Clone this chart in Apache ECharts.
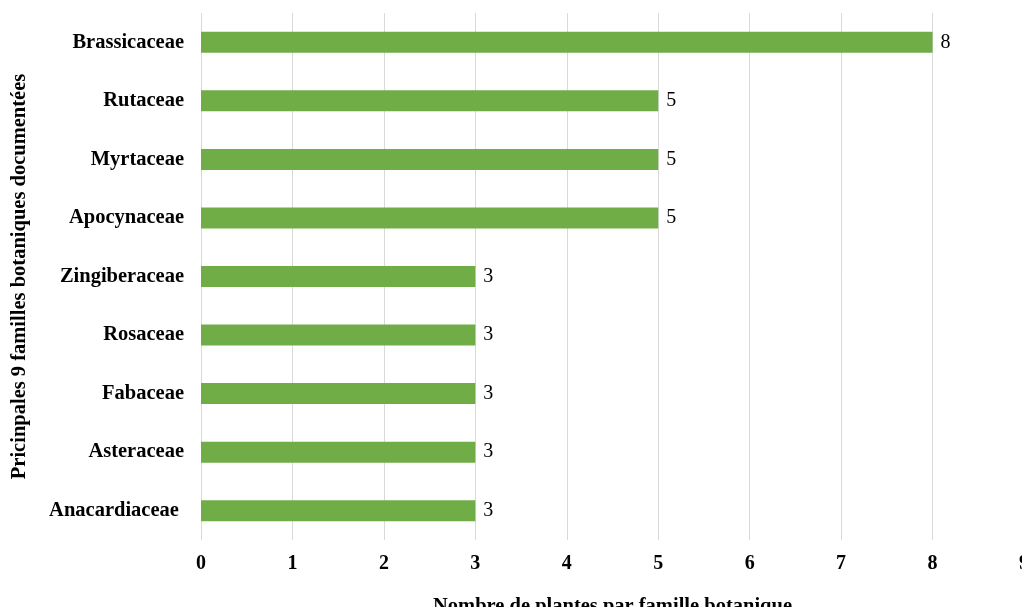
<!DOCTYPE html>
<html><head><meta charset="utf-8">
<script src="https://cdn.jsdelivr.net/npm/echarts@6/dist/echarts.min.js"></script>
<style>html,body{margin:0;padding:0;background:#fff;}#c{width:1022px;height:607px;}</style>
</head><body><div id="c"></div>
<script>
const categories = ["Brassicaceae","Rutaceae","Myrtaceae","Apocynaceae","Zingiberaceae","Rosaceae","Fabaceae","Asteraceae","Anacardiaceae "];
const values = [8,5,5,5,3,3,3,3,3];
const xTicks = [0,1,2,3,4,5,6,7,8,9];
const xTitle = "Nombre de plantes par famille botanique";
const yTitle = "Pricinpales 9 familles botaniques documentées";

const font = "'Liberation Serif','Times New Roman',serif";
const chart = echarts.init(document.getElementById('c'));
chart.setOption({
  animation:false,
  grid:{left:201,right:-2,top:13,bottom:67,containLabel:false,outerBoundsMode:'none'},
  xAxis:{type:'value',min:0,max:9,interval:1,
    name:xTitle,nameLocation:'middle',nameGap:56,
    nameTextStyle:{fontFamily:font,fontWeight:'bold',fontSize:20.5,color:'#000'},
    axisLine:{show:false},axisTick:{show:false},
    splitLine:{show:true,lineStyle:{color:'#d9d9d9',width:1}},
    axisLabel:{margin:14,fontFamily:font,fontWeight:'bold',fontSize:20,color:'#000',
      hideOverlap:false,showMaxLabel:true,
      formatter:v=>xTicks.includes(v)?String(v):''}},
  yAxis:{type:'category',data:categories,inverse:true,
    name:yTitle,nameLocation:'middle',nameGap:171,
    nameTextStyle:{fontFamily:font,fontWeight:'bold',fontSize:20.5,color:'#000'},
    axisLine:{show:false},axisTick:{show:false},
    axisLabel:{margin:17,fontFamily:font,fontWeight:'bold',fontSize:20.5,color:'#000'}},
  series:[{type:'bar',data:values,barWidth:21,itemStyle:{color:'#70ad47'},
    label:{show:true,position:'right',distance:8,fontFamily:font,fontSize:20,color:'#000'}}]
});
</script></body></html>
